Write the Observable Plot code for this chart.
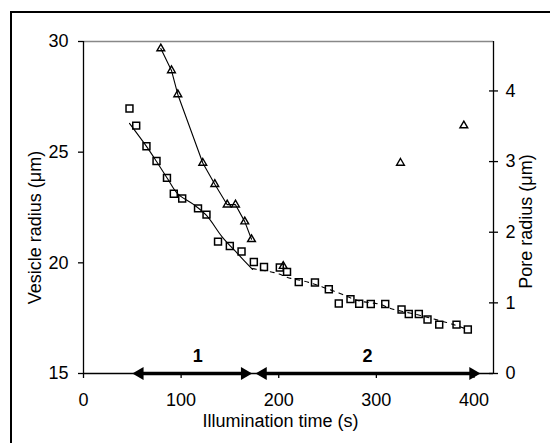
<!DOCTYPE html>
<html><head><meta charset="utf-8">
<script src="https://cdn.jsdelivr.net/npm/d3@7"></script>
<script src="https://cdn.jsdelivr.net/npm/@observablehq/plot@0.6"></script>
<style>
html,body{margin:0;padding:0;background:#fff;}
#wrap{position:relative;width:550px;height:443px;overflow:hidden;background:#fff;}
#border{position:absolute;left:10px;top:11px;width:600px;height:600px;border:2px solid #000;box-sizing:border-box;}
#chart{position:absolute;left:0;top:0;}
</style></head><body>
<div id="wrap"><div id="border"></div><div id="chart"></div></div>
<script>
// Vesicle radius (squares, left axis)
const vesicleTime = [47.1, 54.0, 64.5, 74.8, 85.5, 92.5, 101.1, 117.3, 126.0, 137.8, 149.9, 161.9, 174.5, 184.9, 201.1, 208.5, 220.5, 237.1, 251.3, 261.5, 273.5, 282.4, 294.3, 309.1, 325.8, 333.2, 343.5, 352.4, 364.4, 382.1, 393.7];
const vesicleRadius = [26.97, 26.20, 25.27, 24.60, 23.84, 23.12, 22.91, 22.46, 22.18, 20.96, 20.76, 20.51, 20.04, 19.81, 19.79, 19.59, 19.13, 19.11, 18.81, 18.16, 18.36, 18.15, 18.14, 18.14, 17.89, 17.69, 17.69, 17.44, 17.21, 17.21, 16.99];
// Pore radius (triangles, right axis)
const poreTime = [79.2, 90.1, 96.6, 122.2, 134.5, 147.2, 155.7, 165.2, 172.1, 204.6, 324.7, 389.6];
const poreRadius = [4.60, 4.29, 3.95, 2.98, 2.68, 2.39, 2.39, 2.15, 1.90, 1.52, 2.98, 3.51];
// Fit curves
const fit1Time = [47.1, 64.5, 74.8, 86.0, 96.3, 112.7, 126.0, 142.4, 157.8, 173.1];
const fit1Radius = [26.30, 25.26, 24.58, 23.81, 23.13, 22.64, 22.14, 21.15, 20.42, 19.70];
const fit2Time = [173.1, 198.7, 209.0, 229.5, 260.2, 280.7, 304.2, 314.5, 345.2, 379.0, 393.4];
const fit2Radius = [19.74, 19.52, 19.34, 19.13, 18.66, 18.30, 18.12, 17.94, 17.62, 17.21, 16.99];
// Axes
const xTicks = [0, 100, 200, 300, 400];
const vesicleTicks = [15, 20, 25, 30];
const poreTicks = [0, 1, 2, 3, 4];
const xDomain = [0, 420];
const vesicleDomain = [15, 30];
const poreAxisMax = 4.7;
// Phases
const phaseLabels = ["1", "2"];
const phaseStart = [50, 176.2];
const phaseEnd = [172.8, 406.7];
const phaseLabelTime = [117, 291];

const toLeft = p => vesicleDomain[0] + p * (vesicleDomain[1] - vesicleDomain[0]) / poreAxisMax;
const fromLeft = v => (v - vesicleDomain[0]) * poreAxisMax / (vesicleDomain[1] - vesicleDomain[0]);

const squares = vesicleTime.map((t, i) => ({t, v: vesicleRadius[i]}));
const triangles = poreTime.map((t, i) => ({t, v: toLeft(poreRadius[i])}));
const poreLine = triangles.filter(d => d.t < 175);
const fit1 = fit1Time.map((t, i) => ({t, v: fit1Radius[i]}));
const fit2 = fit2Time.map((t, i) => ({t, v: fit2Radius[i]}));
const phases = phaseLabels.map((p, i) => ({p, s: phaseStart[i], e: phaseEnd[i], m: phaseLabelTime[i]}));
const base = vesicleDomain[0];

const chart = Plot.plot({
  width: 550, height: 443,
  marginLeft: 83, marginRight: 57, marginTop: 41, marginBottom: 70,
  style: {fontFamily: "'Liberation Sans', Arial, sans-serif", fontSize: "18px", background: "transparent", color: "#000"},
  x: {domain: xDomain},
  y: {domain: vesicleDomain},
  marks: [
    Plot.ruleY([vesicleDomain[1]], {stroke: "#888", strokeWidth: 1.3}),
    Plot.ruleX([xDomain[0]], {stroke: "#000", strokeWidth: 1.3}),
    Plot.ruleX([xDomain[1]], {stroke: "#000", strokeWidth: 1.3}),
    Plot.ruleY([vesicleDomain[0]], {stroke: "#000", strokeWidth: 1.3}),
    Plot.axisX({ticks: xTicks, tickSize: 5, tickPadding: 15, label: null, strokeWidth: 1.3}),
    Plot.axisY({anchor: "left", ticks: vesicleTicks, tickSize: 5, tickPadding: 10, label: null, strokeWidth: 1.3}),
    Plot.axisY({anchor: "right", ticks: poreTicks.map(toLeft), tickSize: 9, dx: -5, tickFormat: () => "", label: null, strokeWidth: 1.3}),
    Plot.axisY({anchor: "right", ticks: poreTicks.map(toLeft), tickSize: 0, tickPadding: 12, tickFormat: d => String(Math.round(fromLeft(d))), label: null}),
    Plot.line(fit1, {x: "t", y: "v", stroke: "#000", strokeWidth: 1.1, curve: "catmull-rom"}),
    Plot.line(fit2, {x: "t", y: "v", stroke: "#000", strokeWidth: 1.1, strokeDasharray: "4,5", curve: "catmull-rom"}),
    Plot.line(poreLine, {x: "t", y: "v", stroke: "#000", strokeWidth: 1.1}),
    Plot.dot(squares, {x: "t", y: "v", symbol: "square", r: 3.9, stroke: "#000", strokeWidth: 1.5, fill: "none"}),
    Plot.dot(triangles, {x: "t", y: "v", symbol: "triangle", r: 2.9, stroke: "#000", strokeWidth: 1.4, fill: "none"}),
    Plot.ruleY(phases, {y: base, x1: "s", x2: "e", insetLeft: 8, insetRight: 8, stroke: "#000", strokeWidth: 3.5}),
    Plot.dot(phases, {x: "s", y: base, symbol: "triangle", rotate: -90, r: 4.8, fill: "#000", dx: 7.5}),
    Plot.dot(phases, {x: "e", y: base, symbol: "triangle", rotate: 90, r: 4.8, fill: "#000", dx: -7.5}),
    Plot.text(phases, {x: "m", y: base, text: "p", dy: -17, fontWeight: "bold", fontSize: 18}),
    Plot.text(["Illumination time (s)"], {frameAnchor: "bottom", textAnchor: "middle", lineAnchor: "middle", dx: -8, dy: 48, fontSize: 18}),
    Plot.text(["Vesicle radius (μm)"], {frameAnchor: "left", textAnchor: "middle", lineAnchor: "middle", rotate: -90, dx: -48, dy: 20, fontSize: 18}),
    Plot.text(["Pore radius (μm)"], {frameAnchor: "right", textAnchor: "middle", lineAnchor: "middle", rotate: -90, dx: 33, dy: 14, fontSize: 18})
  ]
});
document.getElementById("chart").appendChild(chart);
</script>
</body></html>
